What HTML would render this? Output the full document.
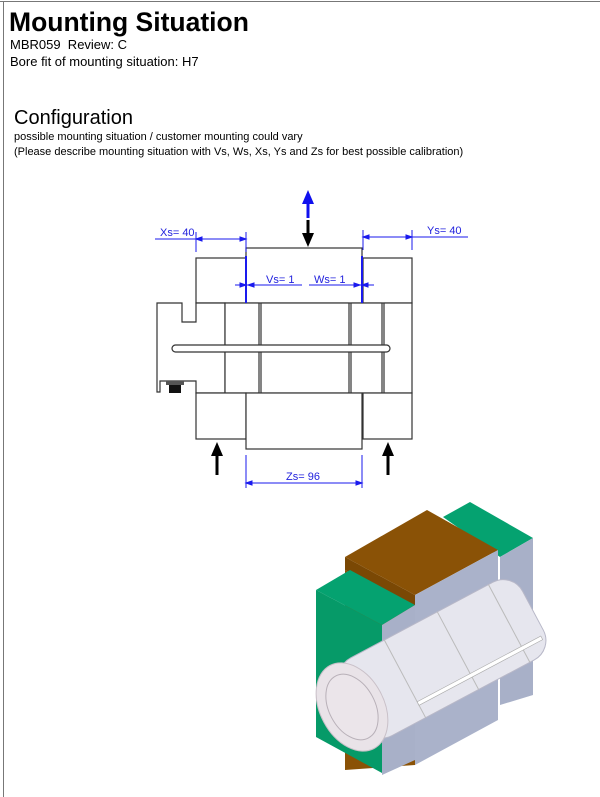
<!DOCTYPE html>
<html><head><style>
body{margin:0;width:600px;height:796px;background:#fff;position:relative;overflow:hidden;font-family:"Liberation Sans",sans-serif;}
.t{position:absolute;white-space:nowrap;color:#000;}
</style></head><body>
<div style="position:absolute;left:0;top:1px;width:600px;height:1px;background:#777"></div>
<div style="position:absolute;left:3px;top:1px;width:1px;height:796px;background:#777"></div>
<div class="t" style="left:9px;top:6px;font-size:26.5px;font-weight:bold;line-height:32px">Mounting Situation</div>
<div class="t" style="left:10px;top:37px;font-size:13px;line-height:15px">MBR059&nbsp; Review: C</div>
<div class="t" style="left:10px;top:54px;font-size:13px;line-height:15px">Bore fit of mounting situation: H7</div>
<div class="t" style="left:14px;top:106px;font-size:20px;line-height:24px">Configuration</div>
<div class="t" style="left:14px;top:131px;font-size:11px;line-height:13px">possible mounting situation / customer mounting could vary</div>
<div class="t" style="left:14px;top:146px;font-size:11px;line-height:13px">(Please describe mounting situation with Vs, Ws, Xs, Ys and Zs for best possible calibration)</div>
<svg width="600" height="796" style="position:absolute;left:0;top:0" font-family="Liberation Sans,sans-serif">
<g fill="#fff" stroke="#333" stroke-width="1.2">
<rect x="246" y="248" width="116" height="55"/>
<rect x="196" y="258" width="50" height="45"/>
<rect x="363" y="258" width="49" height="45"/>
<path d="M157 303 H182 V322 H196 V303 H225 V393 H196 V381 H160 V392 H157 Z"/>
<rect x="225" y="303" width="34" height="90"/>
<rect x="261" y="303" width="88" height="90"/>
<rect x="351" y="303" width="31" height="90"/>
<rect x="384" y="303" width="28" height="90"/>
<rect x="172" y="345" width="218" height="7" rx="3.5"/>
<rect x="196" y="393" width="50" height="46"/>
<rect x="246" y="393" width="116" height="56"/>
<rect x="363" y="393" width="49" height="46"/>
</g>
<rect x="166" y="381" width="18" height="4" fill="#555"/>
<rect x="169" y="385" width="12" height="8" fill="#111"/>
<g stroke="#000" stroke-width="3">
<line x1="217" y1="475" x2="217" y2="455"/><line x1="388" y1="475" x2="388" y2="455"/>
<line x1="308" y1="220" x2="308" y2="235"/>
</g>
<polygon points="217,442 211,456 223,456" fill="#000"/>
<polygon points="388,442 382,456 394,456" fill="#000"/>
<polygon points="308,247 302,233 314,233" fill="#000"/>
<line x1="308" y1="218" x2="308" y2="203" stroke="#1010ee" stroke-width="3"/>
<polygon points="308,190 302,204 314,204" fill="#1010ee"/>
<g stroke="#1a1aee" stroke-width="1" fill="#1a1aee">
<line x1="155" y1="239" x2="246" y2="239"/>
<line x1="196" y1="232" x2="196" y2="252"/><line x1="246" y1="232" x2="246" y2="252"/>
<line x1="363" y1="237" x2="468" y2="237"/>
<line x1="363" y1="230" x2="363" y2="250"/><line x1="412" y1="230" x2="412" y2="250"/>
<line x1="235" y1="285" x2="302" y2="285"/><line x1="309" y1="285" x2="374" y2="285"/>
<line x1="246" y1="455" x2="246" y2="488"/><line x1="362" y1="455" x2="362" y2="488"/>
<line x1="246" y1="483" x2="362" y2="483"/>
<polygon points="196,239 202,237 202,241"/><polygon points="246,239 240,237 240,241"/>
<polygon points="363,237 369,235 369,239"/><polygon points="412,237 406,235 406,239"/>
<polygon points="246,285 240,283 240,287"/><polygon points="248,285 254,283 254,287"/>
<polygon points="362,285 368,283 368,287"/><polygon points="360,285 354,283 354,287"/>
<polygon points="246,483 252,481 252,485"/><polygon points="362,483 356,481 356,485"/>
</g>
<line x1="246" y1="256" x2="246" y2="303" stroke="#1a1aee" stroke-width="2"/>
<line x1="362" y1="256" x2="362" y2="303" stroke="#1a1aee" stroke-width="2"/>
<g fill="#2222dd" font-size="11">
<text x="160" y="236">Xs= 40</text><text x="427" y="234">Ys= 40</text>
<text x="266" y="283">Vs= 1</text><text x="314" y="283">Ws= 1</text>
<text x="286" y="480">Zs= 96</text>
</g>
<polygon points="443,517 470,502 533,538 500,557" fill="#05a270"/>
<polygon points="500,557 533,538 533,695 500,705" fill="#a8b0c8"/>
<polygon points="345,557 427,510 498,550 415,595" fill="#8a5206"/>
<polygon points="345,557 415,595 415,608 345,570" fill="#7a4804"/>
<polygon points="415,595 498,550 498,720 415,765" fill="#aab2ca"/>
<polygon points="345,770 415,765 415,608 345,570" fill="#8a5206"/>
<polygon points="316,590 350,570 415,605 382,625" fill="#05a270"/>
<polygon points="316,590 382,625 382,773 316,737" fill="#069a68"/>
<polygon points="382,625 415,605 415,760 382,775" fill="#a8b0c8"/>
<g transform="translate(352,707) rotate(-28)">
<rect x="0" y="-44" width="205" height="88" rx="22" fill="#e6e6ee" stroke="#b8b8c8"/>
<line x1="60" y1="-44" x2="60" y2="44" stroke="#bbb"/>
<line x1="120" y1="-44" x2="120" y2="44" stroke="#bbb"/>
<line x1="178" y1="-44" x2="178" y2="44" stroke="#bbb"/>
<rect x="60" y="26" width="140" height="4" fill="#fff" stroke="#aaa" stroke-width=".6"/>
<ellipse cx="0" cy="0" rx="32" ry="47" fill="#e9e3e8" stroke="#c9c0c8"/>
<ellipse cx="0" cy="0" rx="23" ry="35" fill="#ebe5ea" stroke="#b8b0b8"/>
</g>
</svg>
</body></html>
